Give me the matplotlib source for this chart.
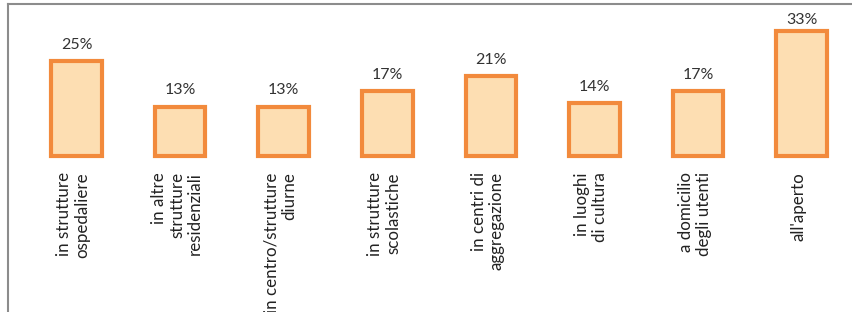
import matplotlib.pyplot as plt
from matplotlib.lines import Line2D

# dati del grafico
categorie = ['in strutture\nospedaliere', 'in altre\nstrutture\nresidenziali',
             'in centro/strutture\ndiurne', 'in strutture\nscolastiche',
             'in centri di\naggregazione', 'in luoghi\ndi cultura',
             'a domicilio\ndegli utenti', "all'aperto"]
valori = [25, 13, 13, 17, 21, 14, 17, 33]

plt.rcParams['font.family'] = ['Lato', 'DejaVu Sans']

fig = plt.figure(figsize=(8.52, 3.12), dpi=100)
ax = fig.add_axes([0, 0, 1, 1])

# scala: 103.6 px per barra, 3.8 px per punto percentuale, base a y=156 px
px_x = 103.6
px_y = 3.8
ax.set_xlim(-76.5 / px_x, (852 - 76.5) / px_x)
ax.set_ylim(-(312 - 156) / px_y, 156 / px_y)
ax.axis('off')

x = range(len(valori))
ax.bar(x, valori, width=0.49, color='#FDDEB2', edgecolor='#F28A3C', linewidth=3)

for i, v in enumerate(valori):
    ytxt = min(v + 2.4, 34.0)
    ax.text(i, ytxt, f'{v}%', ha='center', va='bottom', fontsize=11.5, color='#333333')
    ax.text(i - 0.03, -4.3, categorie[i], rotation=90, ha='center', va='top',
            multialignment='right', fontsize=12.2, color='#222222', linespacing=1.15)

# cornice grigia
fig.add_artist(Line2D([8 / 852, 8 / 852], [0, 1 - 4 / 312], color='#8C8C8C', lw=1.5,
                      transform=fig.transFigure))
fig.add_artist(Line2D([8 / 852, 1], [1 - 4 / 312, 1 - 4 / 312], color='#8C8C8C', lw=1.5,
                      transform=fig.transFigure))

plt.savefig('out.png', dpi=100)
